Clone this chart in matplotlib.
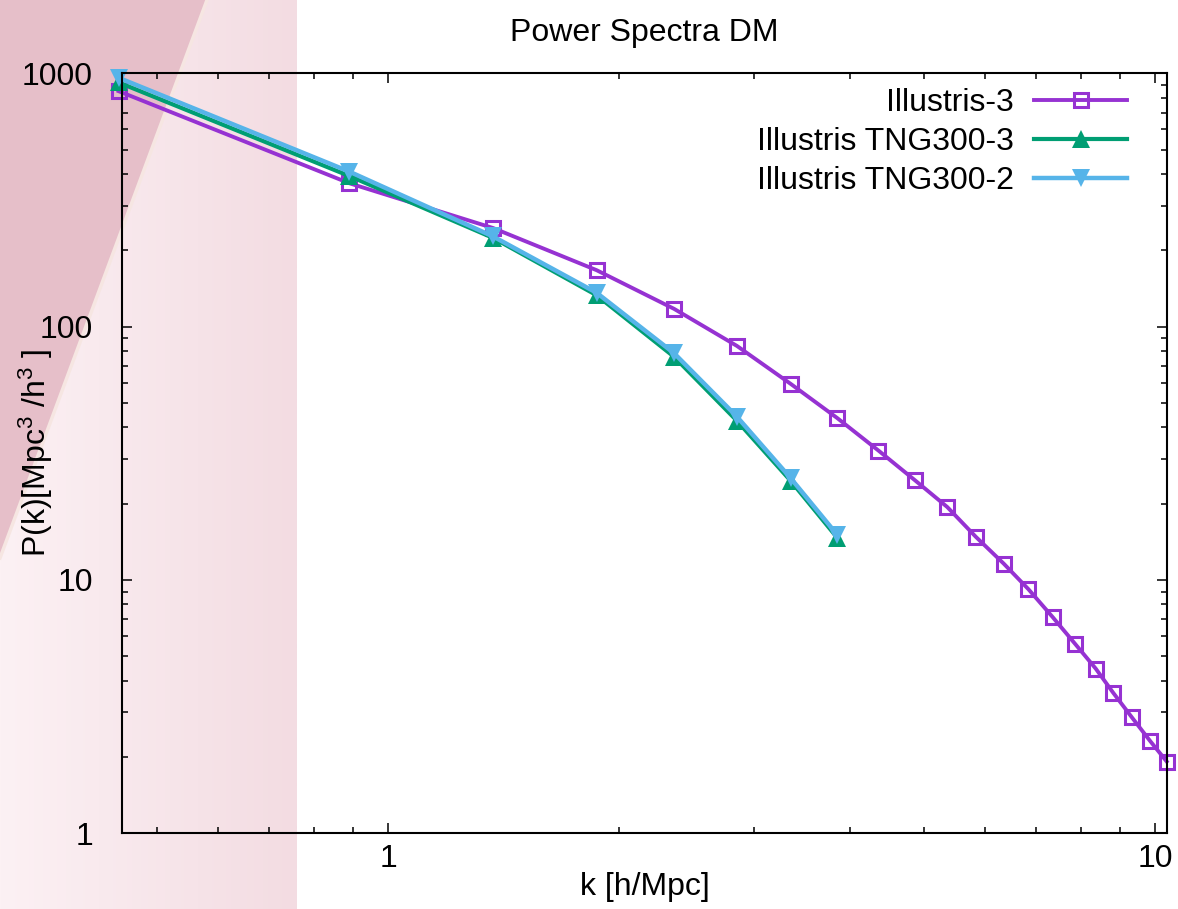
import numpy as np
import matplotlib
matplotlib.use("Agg")
import matplotlib.pyplot as plt
import matplotlib.ticker as tk
from matplotlib.colors import LinearSegmentedColormap
from matplotlib.patches import Polygon

'''Power spectra of the dark matter, Illustris vs TNG300'''

k_ill3 = [0.445, 0.89, 1.37, 1.87, 2.36, 2.85, 3.35, 3.85, 4.36, 4.86, 5.36,
          5.84, 6.35, 6.84, 7.36, 7.87, 8.37, 8.82, 9.33, 9.85, 10.36]
p_ill3 = [850, 368, 245, 167, 117.5, 83.9, 59.4, 43.6, 32.4, 24.8, 19.4,
          14.8, 11.6, 9.19, 7.12, 5.59, 4.47, 3.59, 2.87, 2.32, 1.92]

k_tng = [0.445, 0.89, 1.37, 1.87, 2.36, 2.85, 3.35, 3.85]
p_tng3 = [920, 393, 224, 133, 76.0, 42.5, 24.6, 14.7]
p_tng2 = [960, 409, 227, 136, 78.5, 44.1, 25.2, 15.1]

labels = ["Illustris-3", "Illustris TNG300-3", "Illustris TNG300-2"]

plt.rcParams['font.family'] = ['Liberation Sans', 'DejaVu Sans']
plt.rcParams['mathtext.fontset'] = 'custom'
plt.rcParams['mathtext.rm'] = 'Liberation Sans'
plt.rcParams['mathtext.it'] = 'Liberation Sans'

fig = plt.figure(figsize=(11.78, 9.09), dpi=100)

# pink band on the left with the darker corner wedge
bg = fig.add_axes([0, 0, 1, 1], zorder=-10)
bg.set_xlim(0, 1178)
bg.set_ylim(909, 0)
bg.axis('off')
band = LinearSegmentedColormap.from_list('band', ['#fcf1f4', '#f3dce2'])
bg.imshow(np.linspace(0, 1, 256)[None, :], extent=(0, 297, 909, 0),
          cmap=band, aspect='auto')
bg.add_patch(Polygon([(0, 0), (207, 0), (0, 558)], closed=True,
                     facecolor='#e6bfc9', edgecolor='none'))
bg.plot([207, 0], [0, 558], color='#f6e6e2', lw=2.5)

ax = fig.add_axes([0.1038, 0.0833, 0.8866, 0.8361], zorder=1)
ax.set_facecolor('none')

ax.plot(k_ill3, p_ill3, color='#9632d2', linestyle='-', marker='s', markersize=10.5,
        markerfacecolor='none', markeredgewidth=2.2, linewidth=2.8, label=labels[0],
        clip_on=False)
ax.plot(k_tng, p_tng3, color='#009e73', linestyle='-', marker='^', markersize=13,
        markeredgewidth=0, linewidth=3, label=labels[1], clip_on=False)
ax.plot(k_tng, p_tng2, color='#56b4e9', linestyle='-', marker='v', markersize=13,
        markeredgewidth=0, linewidth=3.2, label=labels[2], clip_on=False)

ax.set_xscale('log')
ax.set_yscale('log')
ax.set_xlim(0.45, 10.36)
ax.set_ylim(1, 1000)

fmt = tk.FuncFormatter(lambda v, pos: '%g' % v)
ax.xaxis.set_major_formatter(fmt)
ax.yaxis.set_major_formatter(fmt)
ax.xaxis.set_minor_formatter(tk.NullFormatter())
ax.yaxis.set_minor_formatter(tk.NullFormatter())

ax.tick_params(which='both', direction='in', top=True, right=True, width=1.1,
               labelsize=23, colors='black')
ax.tick_params(which='major', length=7.5)
ax.tick_params(which='minor', length=4)
ax.tick_params(axis='y', pad=21)
ax.tick_params(axis='x', pad=8)
for s in ax.spines.values():
    s.set_linewidth(1.5)

ax.set_title('Power Spectra DM', fontsize=23, pad=23)
ax.set_xlabel('k [h/Mpc]', fontsize=23, labelpad=-2)
ax.set_ylabel(r'P(k)[Mpc$^3$ /h$^3$ ]', fontsize=23, va='center')
ax.yaxis.set_label_coords(-0.083, 0.5)

ax.legend(loc='upper right', bbox_to_anchor=(0.962, 0.981), markerfirst=False,
          frameon=False, fontsize=23, handlelength=2.9, handletextpad=0.65,
          labelspacing=0.29, borderpad=0, borderaxespad=0)

plt.savefig('out.png', dpi=100)
